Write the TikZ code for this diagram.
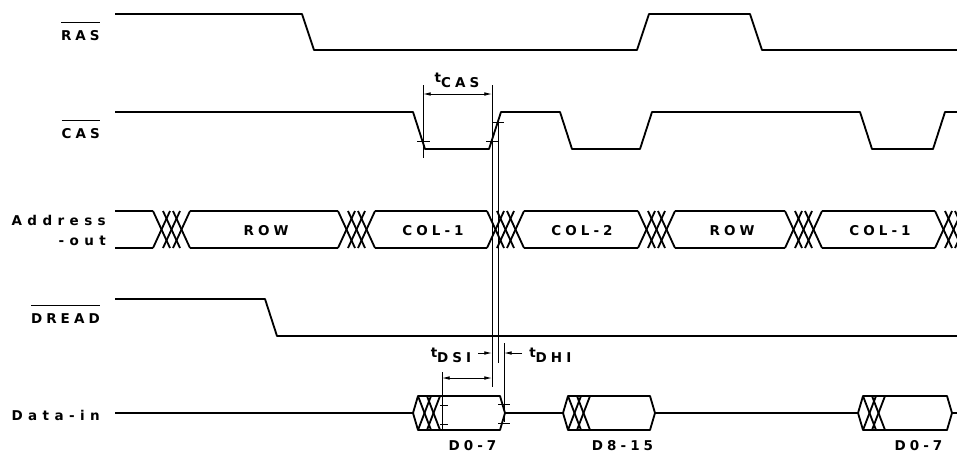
\documentclass[tikz,border=0pt]{standalone}
\usepackage{fontspec}
\setsansfont{DejaVu Sans}[LetterSpace=30, UprightFont=*, BoldFont=* Bold]
\newfontfamily\widefont{DejaVu Sans Bold}[LetterSpace=40]
\usetikzlibrary{arrows.meta}

% overlined signal name, t with subscript
\newcommand{\ovl}[1]{\setbox0\hbox{#1}\rlap{\rule[\dimexpr\ht0+5pt\relax]{\wd0}{0.6pt}}\box0}
\newcommand{\tlab}[1]{t\raisebox{-3.6pt}{#1}}

% three-fold crossing of the address bus, starting at x = #1
\newcommand{\addrcross}[1]{%
  \foreach \k in {0,10,20}{%
    \draw[sig] (#1+\k,211) -- (#1+\k+17,248);
    \draw[sig] (#1+\k,248) -- (#1+\k+17,211);
  }}
% data word: #1 start, #2 right corner, #3 name
\newcommand{\dataword}[3]{%
  \draw[sig] (#1,413) -- (#1+5,396) -- (#2,396) -- (#2+5,413) -- (#2,430) -- (#1+5,430) -- cycle;
  \foreach \k in {0,9}{%
    \draw[sig] (#1+5+\k,396) -- (#1+18+\k,430);
    \draw[sig] (#1+5+\k,430) -- (#1+18+\k,396);
  }
  \node[lbl, anchor=base] at ({(#1+#2+32)/2},450) {#3};
}

\begin{document}
\begin{tikzpicture}[x=0.025cm, y=-0.025cm,
    sig/.style={line width=1.3pt, line join=round},
    dim/.style={line width=0.6pt},
    dimarr/.style={line width=0.6pt, -{Latex[length=5.5pt,width=2.6pt]}},
    lbl/.style={font=\sffamily\bfseries\fontsize{9.6}{11}\selectfont, inner sep=0pt},
    wlbl/.style={font=\widefont\fontsize{9.6}{11}\selectfont, inner sep=0pt}]
  \useasboundingbox (0,0) rectangle (957,455);
  \clip (0,0) rectangle (957,455);

  % signal names
  \node[lbl, anchor=base east] (ras) at (100,40) {\ovl{RAS}};
  \node[lbl, anchor=base east] (cas) at (100,138) {\ovl{CAS}};
  \node[wlbl, anchor=base east] (addr) at (106,225) {Address};
  \node[wlbl, anchor=base east] (addrb) at (106,245) {-out};
  \node[lbl, anchor=base east] (dread) at (100,323) {\ovl{DREAD}};
  \node[wlbl, anchor=base east] (din) at (100,420) {Data-in};

  % RAS, CAS, DREAD
  \draw[sig] (115,14) -- (302,14) -- (314,50) -- (637,50) -- (649,14) -- (750,14) -- (762,50) -- (957,50);
  \draw[sig] (115,112) -- (413,112) -- (425,149) -- (489,149) -- (501,112) -- (560,112) -- (572,149)
    -- (640,149) -- (652,112) -- (860,112) -- (872,149) -- (933,149) -- (945,112) -- (957,112);
  \draw[sig] (115,299) -- (265,299) -- (277,336) -- (957,336);

  % address bus
  \foreach \a/\b in {115/153,190/338,375/487,524/638,675/785,822/935}{%
    \draw[sig] (\a,211) -- (\b,211);
    \draw[sig] (\a,248) -- (\b,248);
  }
  \foreach \c in {153,338,487,638,785,935}{\addrcross{\c}}
  \node[lbl, anchor=base] (row1) at (266,235) {ROW};
  \node[lbl, anchor=base] (col1) at (433,235) {COL-1};
  \node[lbl, anchor=base] (col2) at (582,235) {COL-2};
  \node[lbl, anchor=base] (row2) at (732,235) {ROW};
  \node[lbl, anchor=base] (col3) at (880,235) {COL-1};

  % data-in
  \draw[sig] (115,413) -- (413,413);
  \draw[sig] (505,413) -- (563,413);
  \draw[sig] (655,413) -- (858,413);
  \draw[sig] (952,413) -- (957,413);
  \dataword{413}{500}{D0-7}
  \dataword{563}{650}{D8-15}
  \dataword{858}{947}{D0-7}

  % ticks on the edges
  \draw[dim] (417,141) -- (430,141);
  \draw[dim] (486,141) -- (498,141);
  \draw[dim] (493,122) -- (504,122);
  \draw[dim] (440,405) -- (448,405);
  \draw[dim] (440,424) -- (448,424);
  \draw[dim] (498,404) -- (510,404);
  \draw[dim] (498,423) -- (510,423);

  % timing marks
  \draw[dim] (423,85) -- (423,158);
  \draw[dim] (492,85) -- (492,387);
  \draw[dim] (498,122) -- (498,363);
  \draw[dim] (504,343) -- (504,422);
  \draw[dim] (442,372) -- (442,430);
  \draw[dimarr, {Latex[length=5.5pt,width=2.6pt]}-{Latex[length=5.5pt,width=2.6pt]}] (423,94) -- (492,94);
  \draw[dimarr, {Latex[length=5.5pt,width=2.6pt]}-{Latex[length=5.5pt,width=2.6pt]}] (442,378) -- (492,378);
  \draw[dimarr] (478,353) -- (492,353);
  \draw[dimarr] (522,353) -- (504,353);
  \node[lbl, anchor=base] (tcas) at (457,82) {\tlab{CAS}};
  \node[lbl, anchor=base] (tdsi) at (451,357) {\tlab{DSI}};
  \node[lbl, anchor=base west] (tdhi) at (529,357) {\tlab{DHI}};
\end{tikzpicture}
\end{document}
